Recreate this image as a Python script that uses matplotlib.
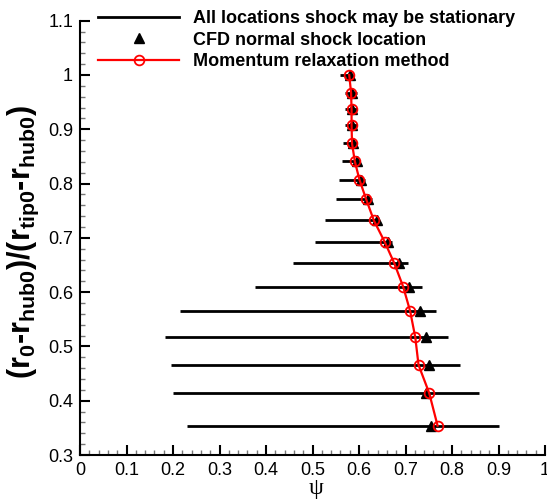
import numpy as np
import matplotlib.pyplot as plt
from matplotlib.lines import Line2D
from matplotlib.ticker import MultipleLocator

plt.rcParams['font.family'] = ['Liberation Sans', 'DejaVu Sans']
# subscripts in the axis label are drawn bold, same face as the label
plt.rcParams['mathtext.fontset'] = 'custom'
plt.rcParams['mathtext.rm'] = 'Liberation Sans:bold'
plt.rcParams['mathtext.default'] = 'rm'

# radial position of each streamline
r_norm = [1.000, 0.967, 0.937, 0.907, 0.874, 0.841, 0.807, 0.772, 0.732,
          0.693, 0.653, 0.610, 0.565, 0.517, 0.466, 0.414, 0.354]

# range of psi where a shock may sit
psi_lo = [0.559, 0.570, 0.570, 0.570, 0.566, 0.564, 0.556, 0.550, 0.527,
          0.505, 0.459, 0.376, 0.214, 0.183, 0.196, 0.201, 0.231]
psi_hi = [0.588, 0.595, 0.595, 0.595, 0.595, 0.602, 0.613, 0.627, 0.642,
          0.670, 0.705, 0.736, 0.765, 0.791, 0.817, 0.857, 0.901]

# CFD normal shock
psi_cfd = [0.580, 0.585, 0.586, 0.586, 0.588, 0.595, 0.605, 0.620, 0.638,
           0.662, 0.687, 0.707, 0.731, 0.744, 0.750, 0.745, 0.754]

# momentum relaxation
psi_mr = [0.579, 0.583, 0.584, 0.584, 0.585, 0.591, 0.601, 0.615, 0.632,
          0.655, 0.676, 0.695, 0.710, 0.721, 0.728, 0.751, 0.769]

fig = plt.figure(figsize=(5.47, 5.01), dpi=100)
ax = fig.add_axes([80 / 547, 46 / 501, 465 / 547, 434.3 / 501])

ax.hlines(r_norm, psi_lo, psi_hi, colors='black', linewidth=2.0, zorder=2)
ax.plot(psi_cfd, r_norm, linestyle='none', marker='^', color='black',
        markersize=7.5, zorder=3)
ax.plot(psi_mr, r_norm, color='red', linewidth=1.6, marker='o',
        markersize=7, markerfacecolor='none', markeredgewidth=1.3, zorder=4)

ax.set_xlim(0, 1)
ax.set_ylim(0.3, 1.1)
ax.xaxis.set_major_locator(MultipleLocator(0.1))
ax.xaxis.set_minor_locator(MultipleLocator(0.02))
ax.yaxis.set_major_locator(MultipleLocator(0.1))
ax.yaxis.set_minor_locator(MultipleLocator(0.02))


def fmt(v, p):
    s = f'{v:.1f}'
    if s.endswith('.0'):
        s = s[:-2]
    return s


ax.xaxis.set_major_formatter(plt.FuncFormatter(fmt))
ax.yaxis.set_major_formatter(plt.FuncFormatter(fmt))

for side in ['top', 'right']:
    ax.spines[side].set_visible(False)
for side in ['left', 'bottom']:
    ax.spines[side].set_linewidth(1.5)

ax.tick_params(which='major', direction='in', length=7, width=1.5,
               labelsize=13, pad=5)
ax.tick_params(which='minor', direction='in', length=3.5, width=1.0,
               color='#777777')

ax.set_xlabel('ψ', fontsize=17, family=['Liberation Serif', 'DejaVu Serif'])
ax.xaxis.set_label_coords(0.507, -0.052)
ax.set_ylabel(r'(r$_{0}$-r$_{hub0}$)/(r$_{tip0}$-r$_{hub0}$)', fontsize=22,
              fontweight='bold')
ax.yaxis.set_label_coords(-0.084, 0.49)

handles = [
    Line2D([], [], color='black', linewidth=2.0),
    Line2D([], [], linestyle='none', marker='^', color='black', markersize=7.5),
    Line2D([], [], color='red', linewidth=1.6, marker='o', markersize=7,
           markerfacecolor='none', markeredgewidth=1.3),
]
labels = ['All locations shock may be stationary',
          'CFD normal shock location',
          'Momentum relaxation method']
fig.legend(handles, labels, loc='upper left',
           bbox_to_anchor=(89 / 547, 1 - 1 / 501), frameon=False,
           prop={'weight': 'bold', 'size': 13}, handlelength=4.5,
           handletextpad=0.75, labelspacing=0.25, borderpad=0.0)

fig.savefig('out.png', dpi=100)
